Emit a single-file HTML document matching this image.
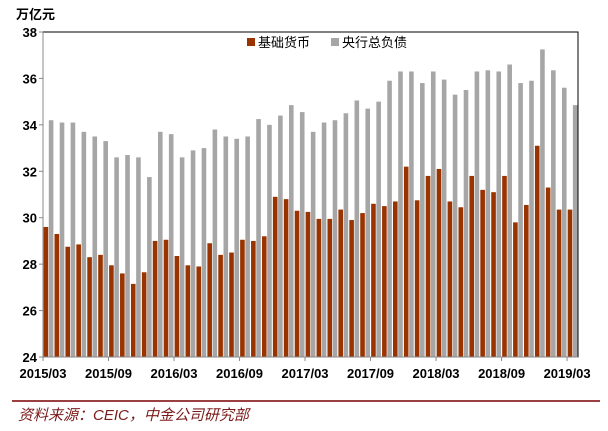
<!DOCTYPE html>
<html><head><meta charset="utf-8"><style>
html,body{margin:0;padding:0;background:#fff;width:608px;height:431px;overflow:hidden}
svg{display:block;font-family:"Liberation Sans","Noto Sans CJK SC",sans-serif}
</style></head><body>
<svg id="chart" width="608" height="431" xmlns="http://www.w3.org/2000/svg"></svg>
<script>
const categories = ["2015/03","2015/04","2015/05","2015/06","2015/07","2015/08","2015/09","2015/10","2015/11","2015/12","2016/01","2016/02","2016/03","2016/04","2016/05","2016/06","2016/07","2016/08","2016/09","2016/10","2016/11","2016/12","2017/01","2017/02","2017/03","2017/04","2017/05","2017/06","2017/07","2017/08","2017/09","2017/10","2017/11","2017/12","2018/01","2018/02","2018/03","2018/04","2018/05","2018/06","2018/07","2018/08","2018/09","2018/10","2018/11","2018/12","2019/01","2019/02","2019/03"];
const baseMoney = [29.6,29.3,28.75,28.85,28.3,28.4,27.95,27.6,27.15,27.65,29.0,29.05,28.35,27.95,27.9,28.9,28.4,28.5,29.05,29.0,29.2,30.9,30.8,30.3,30.25,29.95,29.95,30.35,29.9,30.2,30.6,30.5,30.7,32.2,30.75,31.8,32.1,30.7,30.45,31.8,31.2,31.1,31.8,29.8,30.55,33.1,31.3,30.35,30.35];
const totalLiab = [34.2,34.1,34.1,33.7,33.5,33.3,32.6,32.7,32.6,31.75,33.7,33.6,32.6,32.9,33.0,33.8,33.5,33.4,33.5,34.25,34.0,34.4,34.85,34.55,33.7,34.1,34.2,34.5,35.05,34.7,35.0,35.9,36.3,36.3,35.8,36.3,35.95,35.3,35.5,36.3,36.35,36.3,36.6,35.8,35.9,37.25,36.35,35.6,34.85];
const yTicks = [24,26,28,30,32,34,36,38];
const xTickLabels = ["2015/03","2015/09","2016/03","2016/09","2017/03","2017/09","2018/03","2018/09","2019/03"];

const NS="http://www.w3.org/2000/svg";
const svg=document.getElementById('chart');
const X0=43,X1=578,Y0=357,Y1=32,YMIN=24,YMAX=38;
const step=(X1-X0)/categories.length;
const y=v=>Y0-(v-YMIN)/(YMAX-YMIN)*(Y0-Y1);
const x=i=>X0+i*step;
function mk(tag,attrs,parent){const e=document.createElementNS(NS,tag);for(const k in attrs)e.setAttribute(k,attrs[k]);(parent||svg).appendChild(e);return e;}

// frame
const frame=mk('rect',{x:X0,y:Y1,width:X1-X0,height:Y0-Y1,fill:'none',stroke:'#000','stroke-width':1});


const yax=mk('line',{x1:X0,y1:Y1,x2:X0,y2:Y0,stroke:'#888','stroke-width':1});



// y ticks
yTicks.forEach(v=>{
  const t=mk('line',{x1:X0-4,x2:X0,y1:y(v),y2:y(v),stroke:'#888'});
  
  
  const l=mk('text',{x:X0-6,y:y(v)+5,'text-anchor':'end','font-size':13,'font-weight':'bold',fill:'#000'});
  l.textContent=v;
  
  
});

// bars
categories.forEach((c,i)=>{
  const bw=4.6;
  const r=mk('rect',{x:x(i)+0.6,y:y(baseMoney[i]),width:bw,height:Y0-y(baseMoney[i]),fill:'#993300'});
  
  
  const g=mk('rect',{x:x(i)+0.6+bw+0.6,y:y(totalLiab[i]),width:bw,height:Y0-y(totalLiab[i]),fill:'#a6a6a6'});
  
  
});

// x axis
const xax=mk('line',{x1:X0,y1:Y0,x2:X1,y2:Y0,stroke:'#888'});


xTickLabels.forEach(lb=>{
  const i=categories.indexOf(lb);
  const t=mk('line',{x1:x(i),x2:x(i),y1:Y0,y2:Y0+4,stroke:'#888'});
  
  
  const l=mk('text',{x:x(i),y:Y0+21,'text-anchor':'middle','font-size':13,'font-weight':'bold',fill:'#000'});
  l.textContent=lb;
  
  
});

// unit label
const u=mk('text',{x:16,y:19,'font-size':13,'font-weight':'bold',fill:'#000'});
u.textContent='万亿元';



// legend
const lg=mk('g',{});


const s1=mk('rect',{x:247,y:38,width:8,height:8,fill:'#993300'},lg);


const t1=mk('text',{x:258,y:47,'font-size':13,fill:'#000'},lg);
t1.textContent='基础货币';


const s2=mk('rect',{x:331,y:38,width:8,height:8,fill:'#a6a6a6'},lg);


const t2=mk('text',{x:342,y:47,'font-size':13,fill:'#000'},lg);
t2.textContent='央行总负债';



// footer
const fl=mk('line',{x1:12,x2:600,y1:401,y2:401,stroke:'#7a0000','stroke-width':1.5});


const src=mk('text',{x:18,y:420,'font-size':15,'font-style':'italic',fill:'#7a1a1a'});
src.textContent='资料来源：CEIC，中金公司研究部';


</script>
</body></html>
